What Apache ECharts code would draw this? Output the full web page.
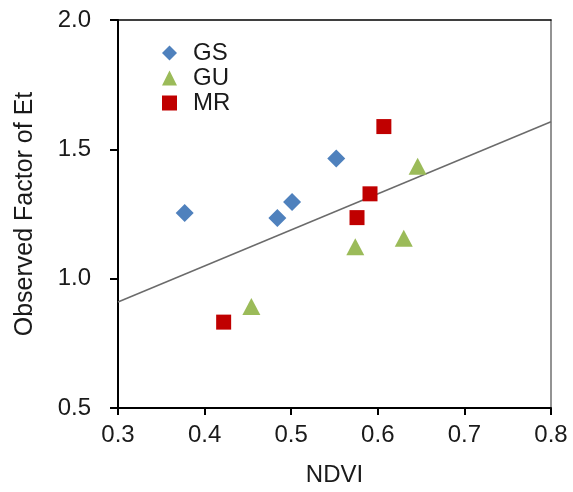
<!DOCTYPE html>
<html>
<head>
<meta charset="utf-8">
<script src="https://cdn.jsdelivr.net/npm/echarts@6/dist/echarts.min.js"></script>
<style>
html,body{margin:0;padding:0;background:#fff;}
#chart{width:573px;height:492px;}
</style>
</head>
<body>
<div id="chart"></div>
<script>
// Data (NDVI, Observed Factor of Et)
const gsNDVI = [0.377, 0.484, 0.501, 0.552];
const gsEt   = [1.254, 1.235, 1.296, 1.465];
const guNDVI = [0.454, 0.574, 0.630, 0.646];
const guEt   = [0.892, 1.123, 1.156, 1.435];
const mrNDVI = [0.422, 0.576, 0.591, 0.607];
const mrEt   = [0.832, 1.236, 1.328, 1.588];
const seriesNames = ['GS', 'GU', 'MR'];
const xTicks = [0.3, 0.4, 0.5, 0.6, 0.7, 0.8];
const yTicks = [0.5, 1.0, 1.5, 2.0];

const pairs = (xs, ys) => xs.map((x, i) => [x, ys[i]]);

// linear trend line fitted over all points
const allX = gsNDVI.concat(guNDVI, mrNDVI);
const allY = gsEt.concat(guEt, mrEt);
const mx = allX.reduce((a, b) => a + b, 0) / allX.length;
const my = allY.reduce((a, b) => a + b, 0) / allY.length;
let sxy = 0, sxx = 0;
allX.forEach((x, i) => { sxy += (x - mx) * (allY[i] - my); sxx += (x - mx) * (x - mx); });
const slope = sxy / sxx;
const icpt = my - slope * mx;
const trendX = [xTicks[0], xTicks[xTicks.length - 1]];
const trend = trendX.map(x => [x, icpt + slope * x]);

const font = 'Arial, "Liberation Sans", sans-serif';
const txt = '#1a1a1a';

const chart = echarts.init(document.getElementById('chart'), null, {renderer: 'canvas'});
chart.setOption({
  animation: false,
  backgroundColor: '#fff',
  grid: {left: 118, right: 22, top: 20, bottom: 82, containLabel: false},
  legend: {
    orient: 'vertical',
    left: 157,
    top: 36,
    itemWidth: 15,
    itemHeight: 15,
    itemGap: 1,
    data: seriesNames,
    textStyle: {fontFamily: font, fontSize: 24, color: txt, padding: [0, 0, 0, 11]}
  },
  xAxis: [{
    type: 'value',
    min: xTicks[0], max: xTicks[xTicks.length - 1], interval: 0.1,
    name: 'NDVI', nameLocation: 'middle', nameGap: 55,
    nameTextStyle: {fontFamily: font, fontSize: 24, color: txt},
    axisLine: {show: true, onZero: false, lineStyle: {color: '#000', width: 2}},
    axisTick: {show: true, inside: false, length: 7, lineStyle: {color: '#000', width: 2}},
    axisLabel: {margin: 15, fontFamily: font, fontSize: 24, color: txt, formatter: v => v.toFixed(1)},
    splitLine: {show: false}
  }, {
    type: 'value', position: 'top',
    min: xTicks[0], max: xTicks[xTicks.length - 1],
    axisLine: {show: true, onZero: false, lineStyle: {color: '#000', width: 1.5}},
    axisTick: {show: false}, axisLabel: {show: false}, splitLine: {show: false}
  }],
  yAxis: [{
    type: 'value',
    min: yTicks[0], max: yTicks[yTicks.length - 1], interval: 0.5,
    name: 'Observed Factor of Et', nameLocation: 'middle', nameGap: 80, nameRotate: 90,
    nameTextStyle: {fontFamily: font, fontSize: 25, color: txt},
    axisLine: {show: true, onZero: false, lineStyle: {color: '#000', width: 2}},
    axisTick: {show: true, inside: false, length: 8, lineStyle: {color: '#000', width: 2}},
    axisLabel: {margin: 27, fontFamily: font, fontSize: 24, color: txt, formatter: v => v.toFixed(1)},
    splitLine: {show: false}
  }, {
    type: 'value', position: 'right',
    min: yTicks[0], max: yTicks[yTicks.length - 1],
    axisLine: {show: true, onZero: false, lineStyle: {color: '#808080', width: 1.7}},
    axisTick: {show: false}, axisLabel: {show: false}, splitLine: {show: false}
  }],
  series: [
    {
      name: 'trend', type: 'line', data: trend, symbol: 'none', silent: true,
      lineStyle: {color: '#6b6b6b', width: 1.5}, z: 1
    },
    {
      name: 'GS', type: 'scatter', data: pairs(gsNDVI, gsEt),
      symbol: 'diamond', symbolSize: 18, symbolKeepAspect: true,
      itemStyle: {color: '#4F81BD', opacity: 1}, z: 3
    },
    {
      name: 'GU', type: 'scatter', data: pairs(guNDVI, guEt),
      symbol: 'triangle', symbolSize: [18, 17],
      itemStyle: {color: '#9BBB59', opacity: 1}, z: 3
    },
    {
      name: 'MR', type: 'scatter', data: pairs(mrNDVI, mrEt),
      symbol: 'rect', symbolSize: 15,
      itemStyle: {color: '#C00000', opacity: 1}, z: 3
    }
  ]
});
</script>
</body>
</html>
